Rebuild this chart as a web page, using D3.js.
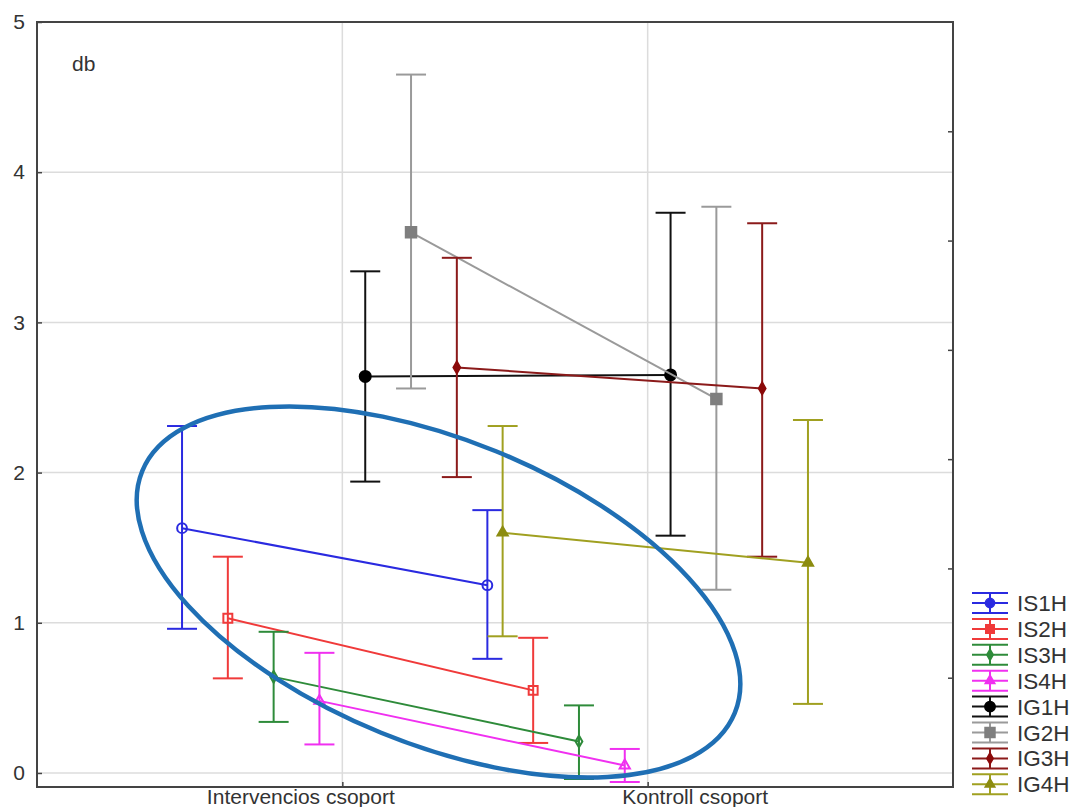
<!DOCTYPE html>
<html>
<head>
<meta charset="utf-8">
<script src="https://cdn.jsdelivr.net/npm/d3@7"></script>
<style>
  html, body { margin: 0; padding: 0; background: #fff; }
  svg { display: block; font-family: "Liberation Sans", Arial, sans-serif; }
</style>
</head>
<body>
<svg id="chart" width="1075" height="807"></svg>
<script>
// Group categories on the x axis
const categories = ["Intervencios csoport", "Kontroll csoport"];
// Measured variables (one line per variable)
const seriesNames = ["IS1H", "IS2H", "IS3H", "IS4H", "IG1H", "IG2H", "IG3H", "IG4H"];
// Means per variable: [Intervencios, Kontroll]
const meanValues = [
  [1.63, 1.25],
  [1.03, 0.55],
  [0.64, 0.21],
  [0.48, 0.05],
  [2.64, 2.65],
  [3.60, 2.49],
  [2.70, 2.56],
  [1.60, 1.40]
];
// Upper ends of the error bars
const upperValues = [
  [2.31, 1.75],
  [1.44, 0.90],
  [0.94, 0.45],
  [0.80, 0.16],
  [3.34, 3.73],
  [4.65, 3.77],
  [3.43, 3.66],
  [2.31, 2.35]
];
// Lower ends of the error bars
const lowerValues = [
  [0.96, 0.76],
  [0.63, 0.20],
  [0.34, -0.04],
  [0.19, -0.06],
  [1.94, 1.58],
  [2.56, 1.22],
  [1.97, 1.44],
  [0.91, 0.46]
];
const yTickValues = [0, 1, 2, 3, 4, 5];
const yAxisTitle = "db";

// Styling per variable
const seriesColors = ["#2a2ae0", "#f03a3a", "#2e8b3a", "#f030f0", "#111111", "#9a9a9a", "#8b1a1a", "#a0a020"];
const markerColors = ["#2a2ae0", "#f03a3a", "#2e8b3a", "#f030f0", "#000000", "#7f7f7f", "#8b0a0a", "#8c8c10"];
const markerShapes = [d3.symbolCircle, d3.symbolSquare, d3.symbolDiamond, d3.symbolTriangle,
                      d3.symbolCircle, d3.symbolSquare, d3.symbolDiamond, d3.symbolTriangle];
const markerFilled = [false, false, false, false, true, true, true, true];
const markerSizes = [75, 80, 40, 45, 95, 110, 40, 45];

const svg = d3.select("#chart");
const plot = { left: 37, right: 953, top: 22, bottom: 787 };

const x = d3.scaleLinear().domain([0, 3]).range([plot.left, plot.right]);
const y = d3.scaleLinear().domain([-0.1, 5]).range([788, plot.top]);
const step = 0.15; // horizontal spread between variables within a group
const xPos = (ci, si) => x(ci + 1 + (si - (seriesNames.length - 1) / 2) * step);

svg.append("defs").append("clipPath").attr("id", "plotClip")
  .append("rect")
  .attr("x", plot.left).attr("y", plot.top)
  .attr("width", plot.right - plot.left).attr("height", plot.bottom - plot.top);

// Grid
const grid = svg.append("g");
grid.selectAll("line.h").data(yTickValues.filter(v => v < 5)).join("line")
  .attr("x1", plot.left).attr("x2", plot.right)
  .attr("y1", d => y(d)).attr("y2", d => y(d))
  .attr("stroke", "#dcdcdc").attr("stroke-width", 1.5);
grid.selectAll("line.v").data(categories).join("line")
  .attr("x1", (d, i) => x(i + 1)).attr("x2", (d, i) => x(i + 1))
  .attr("y1", plot.top).attr("y2", plot.bottom)
  .attr("stroke", "#dcdcdc").attr("stroke-width", 1.5);

// Data layer
const data = svg.append("g").attr("clip-path", "url(#plotClip)");
seriesNames.forEach((name, si) => {
  const g = data.append("g");
  const col = seriesColors[si];
  const pts = categories.map((c, ci) => ({
    x: xPos(ci, si), m: meanValues[si][ci], hi: upperValues[si][ci], lo: lowerValues[si][ci]
  }));
  // connecting line between groups
  g.append("path")
    .attr("d", d3.line().x(d => d.x).y(d => y(d.m))(pts))
    .attr("fill", "none").attr("stroke", col).attr("stroke-width", 2);
  // error bars
  pts.forEach(p => {
    g.append("line").attr("x1", p.x).attr("x2", p.x).attr("y1", y(p.lo)).attr("y2", y(p.hi))
      .attr("stroke", col).attr("stroke-width", 2);
    [p.lo, p.hi].forEach(v => {
      g.append("line").attr("x1", p.x - 15).attr("x2", p.x + 15).attr("y1", y(v)).attr("y2", y(v))
        .attr("stroke", col).attr("stroke-width", 2);
    });
  });
  // markers
  g.selectAll("path.mk").data(pts).join("path")
    .attr("transform", d => `translate(${d.x},${y(d.m)})`)
    .attr("d", d3.symbol().type(markerShapes[si]).size(markerSizes[si]))
    .attr("fill", markerFilled[si] ? markerColors[si] : "none")
    .attr("stroke", markerColors[si]).attr("stroke-width", 2);
});

// Highlight ellipse around the IS variables
const ring = { cx: 1.315, cy: 1.205, rx: 320, ry: 152, angle: 22.2 };
svg.append("ellipse")
  .attr("transform", `translate(${x(ring.cx)},${y(ring.cy)}) rotate(${ring.angle})`)
  .attr("rx", ring.rx).attr("ry", ring.ry)
  .attr("fill", "none").attr("stroke", "#1f6fb4").attr("stroke-width", 4.5);

// Frame
svg.append("rect")
  .attr("x", plot.left).attr("y", plot.top)
  .attr("width", plot.right - plot.left).attr("height", plot.bottom - plot.top)
  .attr("fill", "none").attr("stroke", "#444").attr("stroke-width", 2);

// Y axis
const yAxis = svg.append("g").attr("transform", `translate(${plot.left},0)`)
  .call(d3.axisLeft(y).tickValues(yTickValues).tickFormat(d3.format("d")).tickSize(-5).tickPadding(12));
yAxis.select(".domain").remove();
yAxis.selectAll(".tick line").attr("stroke", "#444").attr("stroke-width", 1.5);
yAxis.selectAll(".tick text").attr("font-size", 21).attr("fill", "#333")
  .attr("font-family", "Liberation Sans, Arial, sans-serif");

// Right-side minor ticks
const yRight = d3.scaleLinear().domain([0, 7]).range([plot.bottom, plot.top]);
const rAxis = svg.append("g").attr("transform", `translate(${plot.right},0)`)
  .call(d3.axisLeft(yRight).tickValues(d3.range(1, 7)).tickFormat("").tickSize(5));
rAxis.select(".domain").remove();
rAxis.selectAll(".tick line").attr("stroke", "#444").attr("stroke-width", 1.5);

// X axis
const labelShift = [-42, 47];
const xAxis = svg.append("g").attr("transform", `translate(0,${plot.bottom})`)
  .call(d3.axisBottom(x).tickValues([1, 2]).tickFormat(d => categories[d - 1]).tickSize(-5).tickPadding(2));
xAxis.select(".domain").remove();
xAxis.selectAll(".tick line").attr("stroke", "#444").attr("stroke-width", 1.5);
xAxis.selectAll(".tick text").attr("font-size", 21).attr("fill", "#333")
  .attr("font-family", "Liberation Sans, Arial, sans-serif")
  .attr("dx", (d, i) => labelShift[i]);

// Axis title inside plot
svg.append("text").attr("x", 72).attr("y", 71).attr("font-size", 21).attr("fill", "#333")
  .text(yAxisTitle);

// Legend
const legend = svg.append("g").attr("transform", "translate(972,603)");
const rowH = 25.9;
seriesNames.forEach((name, si) => {
  const g = legend.append("g").attr("transform", `translate(0,${si * rowH})`);
  const col = seriesColors[si];
  [-10, 0, 10].forEach(dy => {
    g.append("line").attr("x1", 0).attr("x2", 36).attr("y1", dy).attr("y2", dy)
      .attr("stroke", col).attr("stroke-width", 2);
  });
  g.append("line").attr("x1", 18).attr("x2", 18).attr("y1", -10).attr("y2", 10)
    .attr("stroke", col).attr("stroke-width", 2);
  g.append("path").attr("transform", "translate(18,0)")
    .attr("d", d3.symbol().type(markerShapes[si]).size(markerSizes[si] * 0.9))
    .attr("fill", markerColors[si]).attr("stroke", markerColors[si]).attr("stroke-width", 1.5);
  g.append("text").attr("x", 45).attr("y", 8).attr("font-size", 22.5).attr("fill", "#333")
    .text(name);
});
</script>
</body>
</html>
